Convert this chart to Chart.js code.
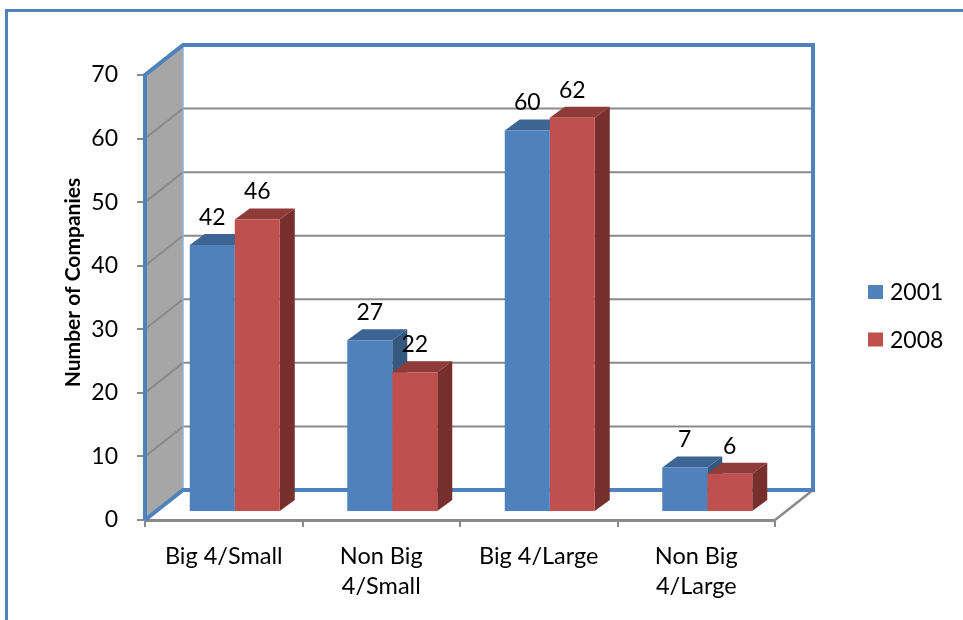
<!DOCTYPE html>
<html>
<head>
<meta charset="utf-8">
<script src="https://cdn.jsdelivr.net/npm/chart.js@4/dist/chart.umd.min.js"></script>
<style>
  html, body { margin: 0; padding: 0; background: #fff; }
  #wrap { width: 963px; height: 620px; position: relative; }
</style>
</head>
<body>
<div id="wrap"><canvas id="chart"></canvas></div>
<script>
const categories = ["Big 4/Small", ["Non Big", "4/Small"], "Big 4/Large", ["Non Big", "4/Large"]];
const seriesNames = ["2001", "2008"];
const values2001 = [42, 27, 60, 7];
const values2008 = [46, 22, 62, 6];
const yTicks = [0, 10, 20, 30, 40, 50, 60, 70];

const FONT = "Lato";
const BLUE = "#4F81BD";
const RED = "#C0504D";
const GRID = "#8A8A8A";
const DEPTH = { x: 38, y: -30 };      // walls/floor recede by this much
const BAR_INSET = { x: 11, y: -8 };   // bars stand a bit behind the front edge
const BAR_DEPTH = { x: 15, y: -11 };  // thickness of each bar
const faces = [
  { top: "#3C6594", side: "#35587F" },
  { top: "#8F3B39", side: "#772F2E" },
];

function poly(ctx, pts, fill) {
  ctx.beginPath();
  ctx.moveTo(pts[0][0], pts[0][1]);
  for (let i = 1; i < pts.length; i++) ctx.lineTo(pts[i][0], pts[i][1]);
  ctx.closePath();
  ctx.fillStyle = fill;
  ctx.fill();
}

// outer chart border
const borderPlugin = {
  id: "outerBorder",
  beforeDraw(chart) {
    const ctx = chart.ctx;
    ctx.save();
    ctx.strokeStyle = BLUE;
    ctx.lineWidth = 3;
    ctx.strokeRect(6.5, 10.5, 1200, 1200);
    ctx.restore();
  },
};

// side wall, back wall, floor and the bar top/side faces
const box3d = {
  id: "box3d",
  beforeDatasetsDraw(chart) {
    const { ctx, chartArea, scales } = chart;
    const y = scales.y;
    const L = chartArea.left, R = chartArea.right, B = chartArea.bottom;
    const T = y.getPixelForValue(yTicks[yTicks.length - 1]);
    const dx = DEPTH.x, dy = DEPTH.y;

    ctx.save();
    poly(ctx, [[L, B], [L, T], [L + dx, T + dy], [L + dx, B + dy]], "#A6A6A6");

    // gridlines on side and back wall
    ctx.strokeStyle = GRID;
    ctx.lineWidth = 2;
    yTicks.slice(1, -1).forEach((v) => {
      const py = y.getPixelForValue(v);
      ctx.beginPath();
      ctx.moveTo(L, py);
      ctx.lineTo(L + dx, py + dy);
      ctx.lineTo(R + dx, py + dy);
      ctx.stroke();
    });

    // floor right edge
    ctx.beginPath();
    ctx.moveTo(R, B);
    ctx.lineTo(R + dx, B + dy);
    ctx.lineWidth = 2.5;
    ctx.stroke();

    // inner corner of the walls
    ctx.strokeStyle = "#8FB0D8";
    ctx.lineWidth = 1.5;
    ctx.beginPath();
    ctx.moveTo(L + dx, T + dy);
    ctx.lineTo(L + dx, B + dy);
    ctx.stroke();

    // wall outline
    ctx.strokeStyle = BLUE;
    ctx.lineWidth = 4;
    ctx.lineJoin = "miter";
    ctx.beginPath();
    ctx.moveTo(L, B);
    ctx.lineTo(L, T);
    ctx.lineTo(L + dx, T + dy);
    ctx.lineTo(R + dx, T + dy);
    ctx.lineTo(R + dx, B + dy);
    ctx.lineTo(L + dx, B + dy);
    ctx.lineTo(L, B);
    ctx.stroke();
    ctx.restore();

    // bars are drawn shifted back into the box
    ctx.save();
    ctx.translate(BAR_INSET.x, BAR_INSET.y);
    const bx = BAR_DEPTH.x, by = BAR_DEPTH.y;
    const metas = chart.data.datasets.map((d, i) => chart.getDatasetMeta(i));
    for (let j = 0; j < categories.length; j++) {
      metas.forEach((meta, i) => {
        const bar = meta.data[j];
        const x0 = bar.x - bar.width / 2, x1 = bar.x + bar.width / 2;
        const top = bar.y, base = bar.base;
        poly(ctx, [[x0, top], [x0 + bx, top + by], [x1 + bx, top + by], [x1, top]], faces[i].top);
        poly(ctx, [[x1, top], [x1 + bx, top + by], [x1 + bx, base + by], [x1, base]], faces[i].side);
      });
    }
  },
  afterDatasetsDraw(chart) {
    const ctx = chart.ctx;
    ctx.font = "23px " + FONT;
    ctx.fillStyle = "#000";
    ctx.textAlign = "center";
    ctx.textBaseline = "middle";
    chart.data.datasets.forEach((ds, i) => {
      chart.getDatasetMeta(i).data.forEach((bar, j) => {
        ctx.fillText(String(ds.data[j]), bar.x, bar.y - 27.5);
      });
    });
    ctx.restore();
  },
  afterDraw(chart) {
    const ctx = chart.ctx;
    ctx.save();
    ctx.font = "23px " + FONT;
    ctx.textAlign = "left";
    ctx.textBaseline = "middle";
    chart.data.datasets.forEach((ds, i) => {
      const cy = 292 + i * 47.5;
      ctx.fillStyle = ds.backgroundColor;
      ctx.fillRect(868, cy - 7, 15, 14);
      ctx.fillStyle = "#000";
      ctx.fillText(ds.label, 890, cy + 1);
    });
    ctx.restore();
  },
};

new Chart(document.getElementById("chart"), {
  type: "bar",
  data: {
    labels: categories,
    datasets: [
      { label: seriesNames[0], data: values2001, backgroundColor: BLUE },
      { label: seriesNames[1], data: values2008, backgroundColor: RED },
    ],
  },
  options: {
    responsive: true,
    maintainAspectRatio: false,
    animation: false,
    devicePixelRatio: 1,
    categoryPercentage: 0.5714,
    barPercentage: 1,
    layout: { padding: { top: 45, right: 188, bottom: 0, left: 0 } },
    plugins: {
      legend: { display: false },
      tooltip: { enabled: false },
    },
    scales: {
      x: {
        afterFit: (s) => { s.height = 100; },
        grid: {
          offset: true,
          drawOnChartArea: false,
          tickLength: 7,
          color: GRID,
          lineWidth: 2,
        },
        border: { display: true, color: GRID, width: 3 },
        ticks: {
          color: "#000",
          font: { family: FONT, size: 23.5, lineHeight: 1.3 },
          padding: 14,
          maxRotation: 0,
          autoSkip: false,
        },
      },
      y: {
        min: 0,
        // extra headroom above 70 for the top of the back wall
        max: 70 * 475 / 445,
        afterFit: (s) => { s.width = 145; },
        afterBuildTicks: (s) => { s.ticks = yTicks.map((v) => ({ value: v })); },
        grid: {
          drawOnChartArea: false,
          tickLength: 8,
          color: GRID,
          lineWidth: 2,
        },
        border: { display: false },
        ticks: {
          color: "#000",
          font: { family: FONT, size: 23 },
          padding: 19,
        },
        title: {
          display: true,
          text: "Number of Companies",
          color: "#000",
          font: { family: FONT, size: 21, weight: "bold" },
          padding: { top: 61, bottom: 0 },
        },
      },
    },
  },
  plugins: [borderPlugin, box3d],
});
</script>
</body>
</html>
